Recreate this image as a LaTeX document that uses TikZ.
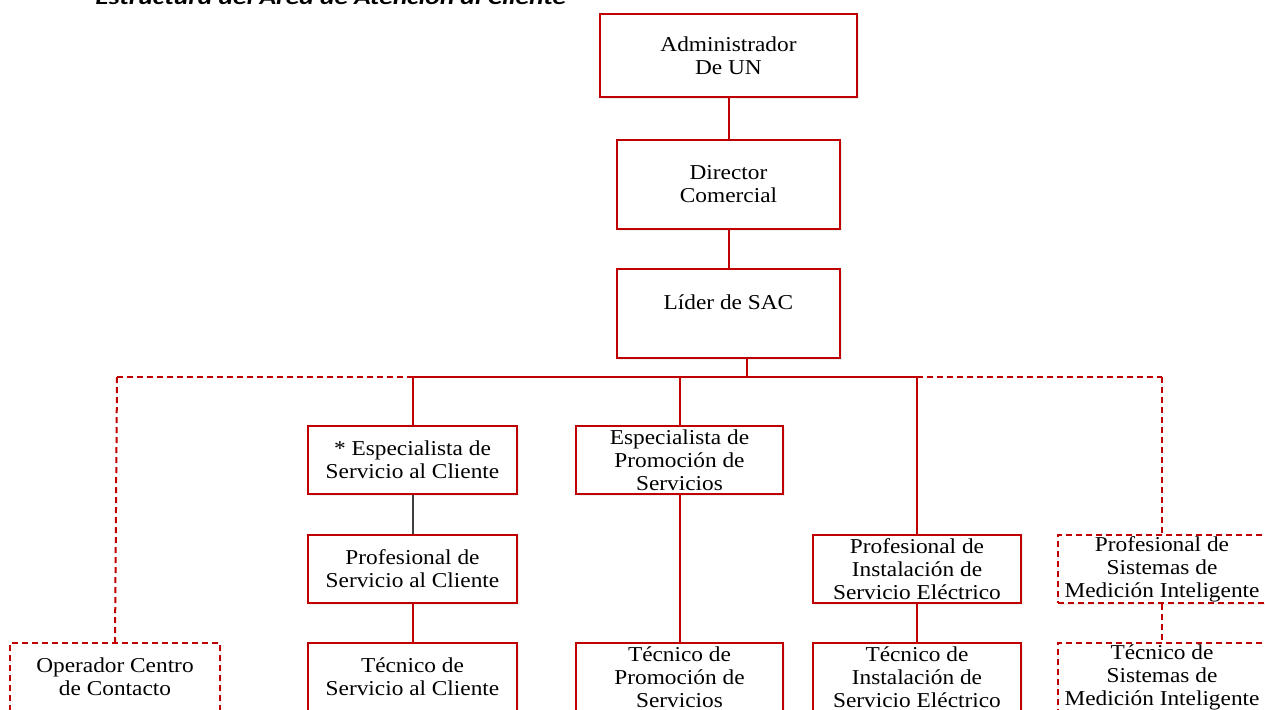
\documentclass[tikz,border=0pt]{standalone}
\usepackage{fontspec}
\setmainfont{Liberation Serif}[FakeStretch=1.1]
\newfontfamily\titlefont{Carlito}[FakeStretch=1.32]
\usepackage{tikz}
\usetikzlibrary{shadows}
\usepackage{xcolor}
\definecolor{rojo}{RGB}{192,0,0}
\definecolor{gris}{RGB}{64,64,64}

\tikzset{
  cargo/.style={draw=rojo, line width=1pt, fill=white, align=center,
    inner sep=0pt, font=\fontsize{10.6}{11.5}\selectfont,
    drop shadow={shadow xshift=1.2pt, shadow yshift=-1.2pt, opacity=0.12}},
  cargop/.style={cargo, dashed, dash pattern=on 3pt off 2pt},
  linea/.style={draw=rojo, line width=1pt},
  lineap/.style={linea, dash pattern=on 3pt off 2pt}
}

\begin{document}
\begin{tikzpicture}[x=0.5pt,y=-0.5pt]
\useasboundingbox (0,0) rectangle (1265,709);
% titulo
\node[anchor=base west, inner sep=0pt, font=\titlefont\bfseries\itshape\fontsize{10.4}{12}\selectfont] (titulo) at (95,4.5) {Estructura del Área de Atención al Cliente};
% nivel superior
\node[cargo, minimum width=128.5pt, minimum height=41.5pt] (adm) at (728.5,55.5) {Administrador\\De UN};
\node[cargo, minimum width=111.5pt, minimum height=44.5pt] (dir) at (728.5,184.5) {Director\\Comercial};
\node[cargo, minimum width=111.5pt, minimum height=44.5pt] (lider) at (728.5,313.5) {Líder de SAC\\\mbox{}};
% segundo nivel
\node[cargo, minimum width=104.5pt, minimum height=34pt] (espsc) at (412.5,460) {* Especialista de\\Servicio al Cliente};
\node[cargo, minimum width=103.5pt, minimum height=34pt] (esppro) at (679.5,460) {Especialista de\\Promoción de\\Servicios};
% profesionales
\node[cargo, minimum width=104.5pt, minimum height=34pt] (profsc) at (412.5,569) {Profesional de\\Servicio al Cliente};
\node[cargo, minimum width=104pt, minimum height=34pt] (profie) at (917,569) {Profesional de\\Instalación de\\Servicio Eléctrico};
\node[cargop, minimum width=104pt, minimum height=34pt] (profsmi) at (1162,569) {Profesional de\\Sistemas de\\Medición Inteligente};
% tecnicos
\node[cargop, minimum width=105pt, minimum height=34pt] (opcc) at (115,677) {Operador Centro\\de Contacto};
\node[cargo, minimum width=104.5pt, minimum height=34pt] (tecsc) at (412.5,677) {Técnico de\\Servicio al Cliente};
\node[cargo, minimum width=103.5pt, minimum height=34pt] (tecpro) at (679.5,677) {Técnico de\\Promoción de\\Servicios};
\node[cargo, minimum width=104pt, minimum height=34pt] (tecie) at (917,677) {Técnico de\\Instalación de\\Servicio Eléctrico};
\node[cargop, minimum width=104pt, minimum height=34pt] (tecsmi) at (1162,677) {Técnico de\\Sistemas de\\Medición Inteligente};
% conectores
\coordinate (bus) at (747,377);
\coordinate (busizq) at (117,377);
\coordinate (busder) at (1162,377);
\draw[linea] (adm) -- (dir);
\draw[linea] (dir) -- (lider);
\draw[lineap] (busizq) -- (busder);
\draw[lineap] (busizq) -- (opcc.north);
\draw[lineap] (busder) -- (profsmi.north);
\draw[lineap] (profsmi) -- (tecsmi);
\draw[linea] (lider.south -| bus) -- (bus);
\draw[linea] (espsc.north |- bus) -- (profie.north |- bus);
\draw[linea] (espsc.north |- bus) -- (espsc.north);
\draw[linea] (esppro.north |- bus) -- (esppro.north);
\draw[linea] (profie.north |- bus) -- (profie.north);
\draw[draw=gris, line width=1pt] (espsc) -- (profsc);
\draw[linea] (profsc) -- (tecsc);
\draw[linea] (esppro) -- (tecpro);
\draw[linea] (profie) -- (tecie);
\end{tikzpicture}
\end{document}
